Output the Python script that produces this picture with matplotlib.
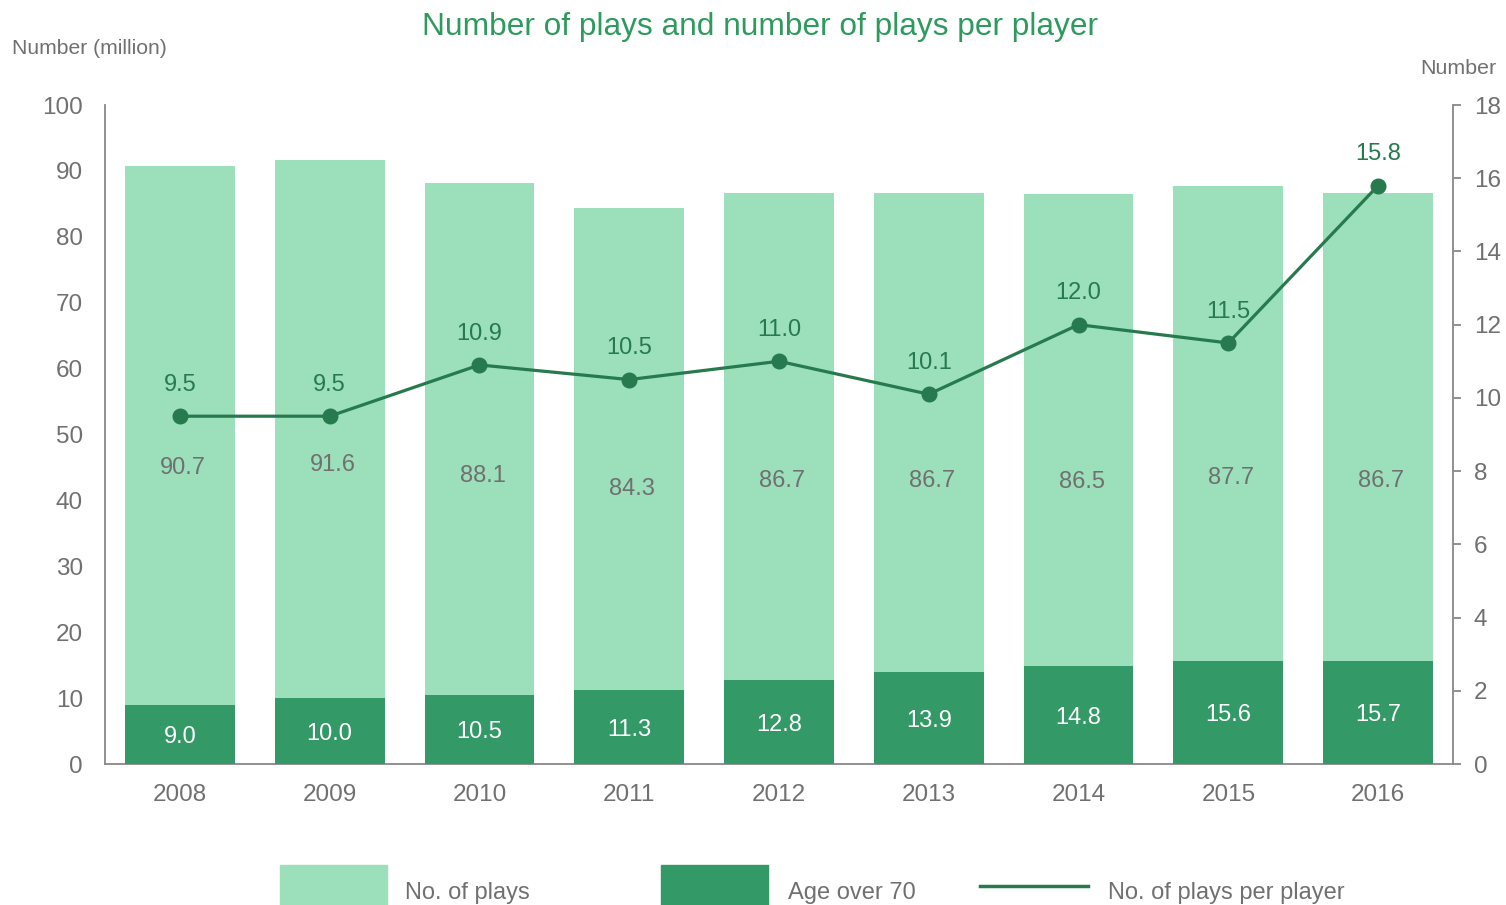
import matplotlib
matplotlib.use("Agg")
import matplotlib.pyplot as plt
from matplotlib.patches import Rectangle
from matplotlib.lines import Line2D

plt.rcParams['font.family'] = ['Liberation Sans', 'DejaVu Sans']

years = ["2008", "2009", "2010", "2011", "2012", "2013", "2014", "2015", "2016"]
plays = [90.7, 91.6, 88.1, 84.3, 86.7, 86.7, 86.5, 87.7, 86.7]
over70 = [9.0, 10.0, 10.5, 11.3, 12.8, 13.9, 14.8, 15.6, 15.7]
per_player = [9.5, 9.5, 10.9, 10.5, 11.0, 10.1, 12.0, 11.5, 15.8]

LIGHT = "#9BDFBB"
DARK = "#339966"
LINE = "#267A4E"
GREY = "#707070"
TITLE = "#2E9A5E"

W, H = 1506, 905
fig = plt.figure(figsize=(W / 100, H / 100), dpi=100)
ax = fig.add_axes([105 / W, 1 - 764 / H, (1453 - 105) / W, (764 - 105) / H])
ax2 = ax.twinx()

x = list(range(len(years)))
bw = 0.733
ax.bar(x, plays, width=bw, color=LIGHT, zorder=2)
ax.bar(x, over70, width=bw, color=DARK, zorder=3)

for xi, p, o in zip(x, plays, over70):
    ax.annotate(f"{p:.1f}", (xi + 0.02, p / 2), xytext=(0, -2), textcoords="offset points",
                ha="center", va="center", fontsize=17, color=GREY, zorder=5)
    ax.annotate(f"{o:.1f}", (xi, o / 2), xytext=(0, -2), textcoords="offset points",
                ha="center", va="center", fontsize=17, color="white", zorder=5)

ax.set_xlim(-0.5, 8.5)
ax.set_ylim(0, 100)
ax.set_yticks(range(0, 101, 10))
ax.set_xticks(x)
ax.set_xticklabels(years)
ax.tick_params(axis="y", length=0, pad=16, labelsize=17.5, labelcolor=GREY)
ax.tick_params(axis="x", length=0, pad=14.5, labelsize=17.5, labelcolor=GREY)
for s in ["top", "right"]:
    ax.spines[s].set_visible(False)
for s in ["left", "bottom"]:
    ax.spines[s].set_color("#888888")
    ax.spines[s].set_linewidth(1.3)

ax2.plot(x, per_player, color=LINE, lw=2.3, marker="o", markersize=10.5, zorder=6)
for xi, v in zip(x, per_player):
    ax2.annotate(f"{v:.1f}", (xi, v), xytext=(0, 22.5), textcoords="offset points",
                 ha="center", va="center", fontsize=17, color=LINE)
ax2.set_ylim(0, 18)
ax2.set_yticks(range(0, 19, 2))
ax2.tick_params(axis="y", length=6, width=1.3, color="#888888", pad=9, labelsize=17.5, labelcolor=GREY)
for s in ["top", "left", "bottom"]:
    ax2.spines[s].set_visible(False)
ax2.spines["right"].set_color("#888888")
ax2.spines["right"].set_linewidth(1.3)

fig.text(760 / W, 1 - 27 / H, "Number of plays and number of plays per player", ha="center", va="center",
         fontsize=22.8, color=TITLE)
fig.text(12 / W, 1 - 49 / H, "Number (million)", ha="left", va="center", fontsize=15.2, color=GREY)
fig.text(1496 / W, 1 - 69 / H, "Number", ha="right", va="center", fontsize=15.4, color=GREY)

# legend
def px(xp, yp):
    return (xp / W, 1 - yp / H)

fig.add_artist(Rectangle(px(280, 905), 107 / W, 40 / H, transform=fig.transFigure, color=LIGHT))
fig.text(*px(405, 893), "No. of plays", ha="left", va="center", fontsize=17, color=GREY)
fig.add_artist(Rectangle(px(661, 905), 107 / W, 40 / H, transform=fig.transFigure, color=DARK))
fig.text(*px(788, 893), "Age over 70", ha="left", va="center", fontsize=17, color=GREY)
fig.add_artist(Line2D([980 / W, 1088 / W], [1 - 886 / H, 1 - 886 / H], transform=fig.transFigure,
                      color=LINE, lw=2.5))
fig.text(*px(1108, 893), "No. of plays per player", ha="left", va="center", fontsize=17, color=GREY)

fig.savefig("out.png", dpi=100)
